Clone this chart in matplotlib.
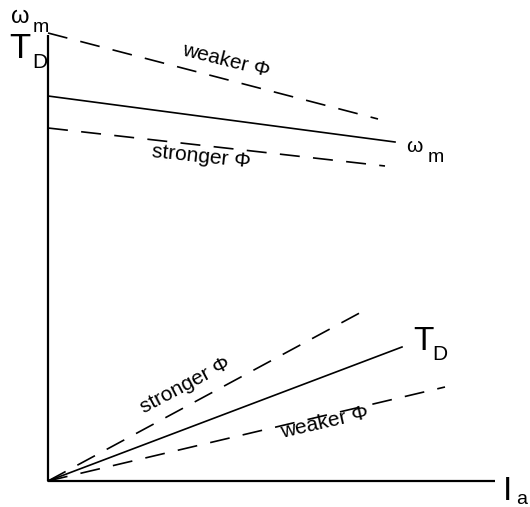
import matplotlib
matplotlib.use("Agg")
import matplotlib.pyplot as plt

plt.rcParams['font.family'] = ['Liberation Sans', 'DejaVu Sans']

# speed lines (omega_m vs I_a): start and end points
omega_weak_x = [0, 330]
omega_weak_y = [448, 362]
omega_x = [0, 347]
omega_y = [385, 339]
omega_strong_x = [0, 337]
omega_strong_y = [353, 315]

# torque lines (T_D vs I_a), from origin
torque_strong_x = [0, 319]
torque_strong_y = [0, 172]
torque_x = [0, 354]
torque_y = [0, 134]
torque_weak_x = [0, 397]
torque_weak_y = [0, 94]

fig = plt.figure(figsize=(5.30, 5.07), dpi=100)
ax = fig.add_axes([0, 0, 1, 1])
ax.set_xlim(-48, 482)
ax.set_ylim(-26, 481)
ax.axis('off')

# axes
ax.plot([0, 0], [0, 446], color='black', lw=1.6, solid_capstyle='butt')
ax.plot([0, 447], [0, 0], color='black', lw=1.6, solid_capstyle='butt')

dash = (12, 8)
ax.plot(omega_weak_x, omega_weak_y, color='black', lw=1.2, dashes=dash)
ax.plot(omega_x, omega_y, color='black', lw=1.2)
ax.plot(omega_strong_x, omega_strong_y, color='black', lw=1.2, dashes=dash)

ax.plot(torque_strong_x, torque_strong_y, color='black', lw=1.2, dashes=dash)
ax.plot(torque_x, torque_y, color='black', lw=1.2)
ax.plot(torque_weak_x, torque_weak_y, color='black', lw=1.2, dashes=dash)

# axis labels
ax.text(-28, 464, "ω", fontsize=17, ha='center', va='center')
ax.text(-7, 453, "m", fontsize=14, ha='center', va='center')
ax.text(-28, 433, "T", fontsize=25, ha='center', va='center')
ax.text(-8, 418, "D", fontsize=15, ha='center', va='center')

ax.text(366, 335, "ω", fontsize=15, ha='center', va='center')
ax.text(388, 324, "m", fontsize=14, ha='center', va='center')
ax.text(375, 139, "T", fontsize=24, ha='center', va='center')
ax.text(392, 127, "D", fontsize=15, ha='center', va='center')

ax.text(460, -10, "I", fontsize=24, ha='center', va='center')
ax.text(474, -18, "a", fontsize=14, ha='center', va='center')

# curve labels
ax.text(178, 420, "weaker Φ", fontsize=15, rotation=-14, ha='center', va='center')
ax.text(153, 324, "stronger Φ", fontsize=15, rotation=-6, ha='center', va='center')
ax.text(137, 96, "stronger Φ", fontsize=15, rotation=28, ha='center', va='center')
ax.text(277, 58, "weaker Φ", fontsize=15, rotation=13, ha='center', va='center')

fig.savefig("out.png", dpi=100)
